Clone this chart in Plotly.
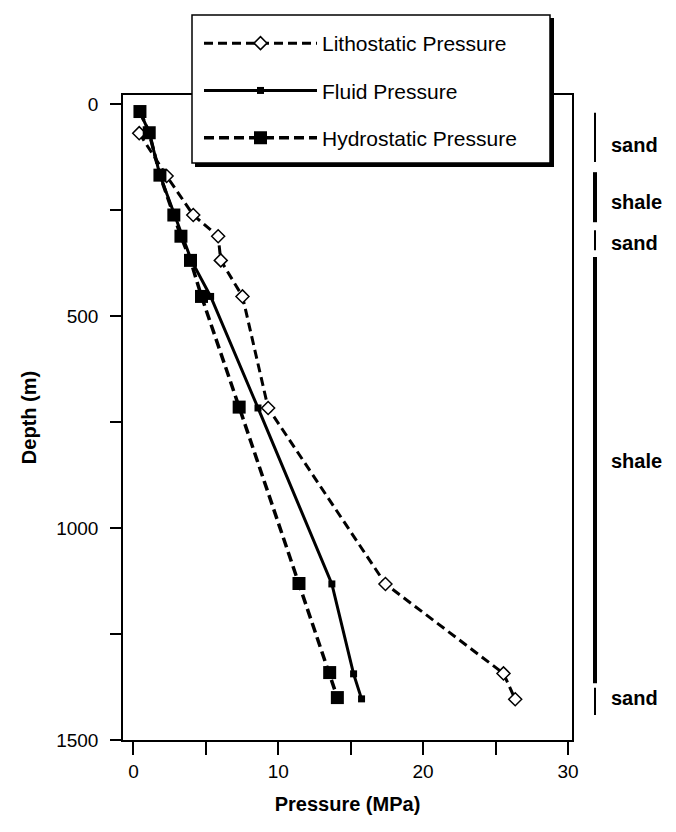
import plotly.graph_objects as go

# ---- data ----
depth_hydro = [18, 68, 168, 262, 312, 369, 454, 715, 1131, 1341, 1400]
p_hydro = [0.45, 1.09, 1.83, 2.79, 3.28, 3.94, 4.70, 7.3, 11.43, 13.55, 14.08]

depth_fluid = [18, 68, 168, 262, 312, 369, 454, 717, 1132, 1344, 1403]
p_fluid = [0.45, 1.09, 1.83, 2.85, 3.35, 4.0, 5.33, 8.6, 13.7, 15.2, 15.75]

depth_litho = [69, 170, 262, 312, 369, 454, 717, 1132, 1343, 1404]
p_litho = [0.4, 2.29, 4.13, 5.85, 6.03, 7.53, 9.3, 17.4, 25.55, 26.36]

layer_names = ["sand", "shale", "sand", "shale", "sand"]
layer_top = [21, 161, 298, 361, 1377]
layer_bottom = [137, 279, 345, 1366, 1441]
layer_label_depth = [97, 231, 328, 843, 1401]

y_tickvals = [0, 250, 500, 750, 1000, 1250, 1500]
y_ticktext = ["0", "", "500", "", "1000", "", "1500"]
x_tickvals = [0, 5, 10, 15, 20, 25, 30]
x_ticktext = ["0", "", "10", "", "20", "", "30"]

FONT = "Liberation Sans, Arial, Helvetica, sans-serif"

W, H = 676, 832
ML, MR, MT, MB = 123, 104, 95, 92
PW = W - ML - MR
PH = H - MT - MB


def px2x(px):
    return (px - ML) / PW


def px2y(py):
    return (H - MB - py) / PH


fig = go.Figure()

fig.add_trace(go.Scatter(
    x=p_litho, y=depth_litho, name="Lithostatic Pressure", legendgroup="a",
    mode="lines+markers",
    line=dict(color="black", width=3, dash="9px,5px"),
    marker=dict(symbol="diamond", size=10, color="white",
                line=dict(color="black", width=1.5)),
))
fig.add_trace(go.Scatter(
    x=p_fluid, y=depth_fluid, name="Fluid Pressure", legendgroup="b",
    mode="lines+markers",
    line=dict(color="black", width=3),
    marker=dict(symbol="square", size=7, color="black"),
))
fig.add_trace(go.Scatter(
    x=p_hydro, y=depth_hydro, name="Hydrostatic Pressure", legendgroup="c",
    mode="lines+markers",
    line=dict(color="black", width=3.5, dash="10px,5px"),
    marker=dict(symbol="square", size=13, color="black"),
))

shapes = []
# legend box shadow and box
shapes.append(dict(type="rect", xref="paper", yref="paper", layer="above",
                   x0=px2x(195), x1=px2x(554), y0=px2y(167), y1=px2y(18),
                   fillcolor="black", line=dict(width=0)))
shapes.append(dict(type="rect", xref="paper", yref="paper", layer="above",
                   x0=px2x(192), x1=px2x(550), y0=px2y(163), y1=px2y(15),
                   fillcolor="white", line=dict(color="black", width=1.5)))

annotations = []
for name, top, bot, lab in zip(layer_names, layer_top, layer_bottom, layer_label_depth):
    shapes.append(dict(type="line", xref="paper", yref="y",
                       x0=px2x(595), x1=px2x(595), y0=top, y1=bot,
                       line=dict(color="black", width=4 if name == "shale" else 2)))
    annotations.append(dict(xref="paper", yref="y", x=px2x(609), y=lab,
                            text=name, showarrow=False, xanchor="left", yanchor="middle",
                            font=dict(family=FONT, size=20, color="black", weight="bold")))

fig.update_layout(
    width=W, height=H, autosize=False,
    margin=dict(l=ML, r=MR, t=MT, b=MB),
    paper_bgcolor="white", plot_bgcolor="white",
    font=dict(family=FONT, color="black", size=19),
    shapes=shapes, annotations=annotations,
    legend=dict(
        x=px2x(199), y=px2y(23), xanchor="left", yanchor="top",
        bgcolor="rgba(0,0,0,0)", borderwidth=0,
        itemwidth=113, tracegroupgap=17,
        font=dict(family=FONT, size=21, color="black"),
    ),
    xaxis=dict(
        range=[-0.72, 30.28], tickvals=x_tickvals, ticktext=x_ticktext,
        ticks="outside", ticklen=13, tickwidth=1.5, tickcolor="black",
        showline=True, linecolor="black", linewidth=1.5, mirror=True,
        showgrid=False, zeroline=False,
        tickfont=dict(family=FONT, size=19, color="black"),
        title=dict(text="Pressure (MPa)", standoff=16,
                   font=dict(family=FONT, size=20, color="black", weight="bold")),
    ),
    yaxis=dict(
        range=[1500, -21], tickvals=y_tickvals, ticktext=y_ticktext,
        ticks="outside", ticklen=11, tickwidth=1.5, tickcolor="black",
        showline=True, linecolor="black", linewidth=1.5, mirror=True,
        showgrid=False, zeroline=False, ticklabelstandoff=8,
        tickfont=dict(family=FONT, size=19, color="black"),
        title=dict(text="Depth (m)", standoff=14,
                   font=dict(family=FONT, size=20, color="black", weight="bold")),
    ),
)

fig.write_html("out.html", config={"displayModeBar": False},
               post_script="document.body.style.margin='0';")
